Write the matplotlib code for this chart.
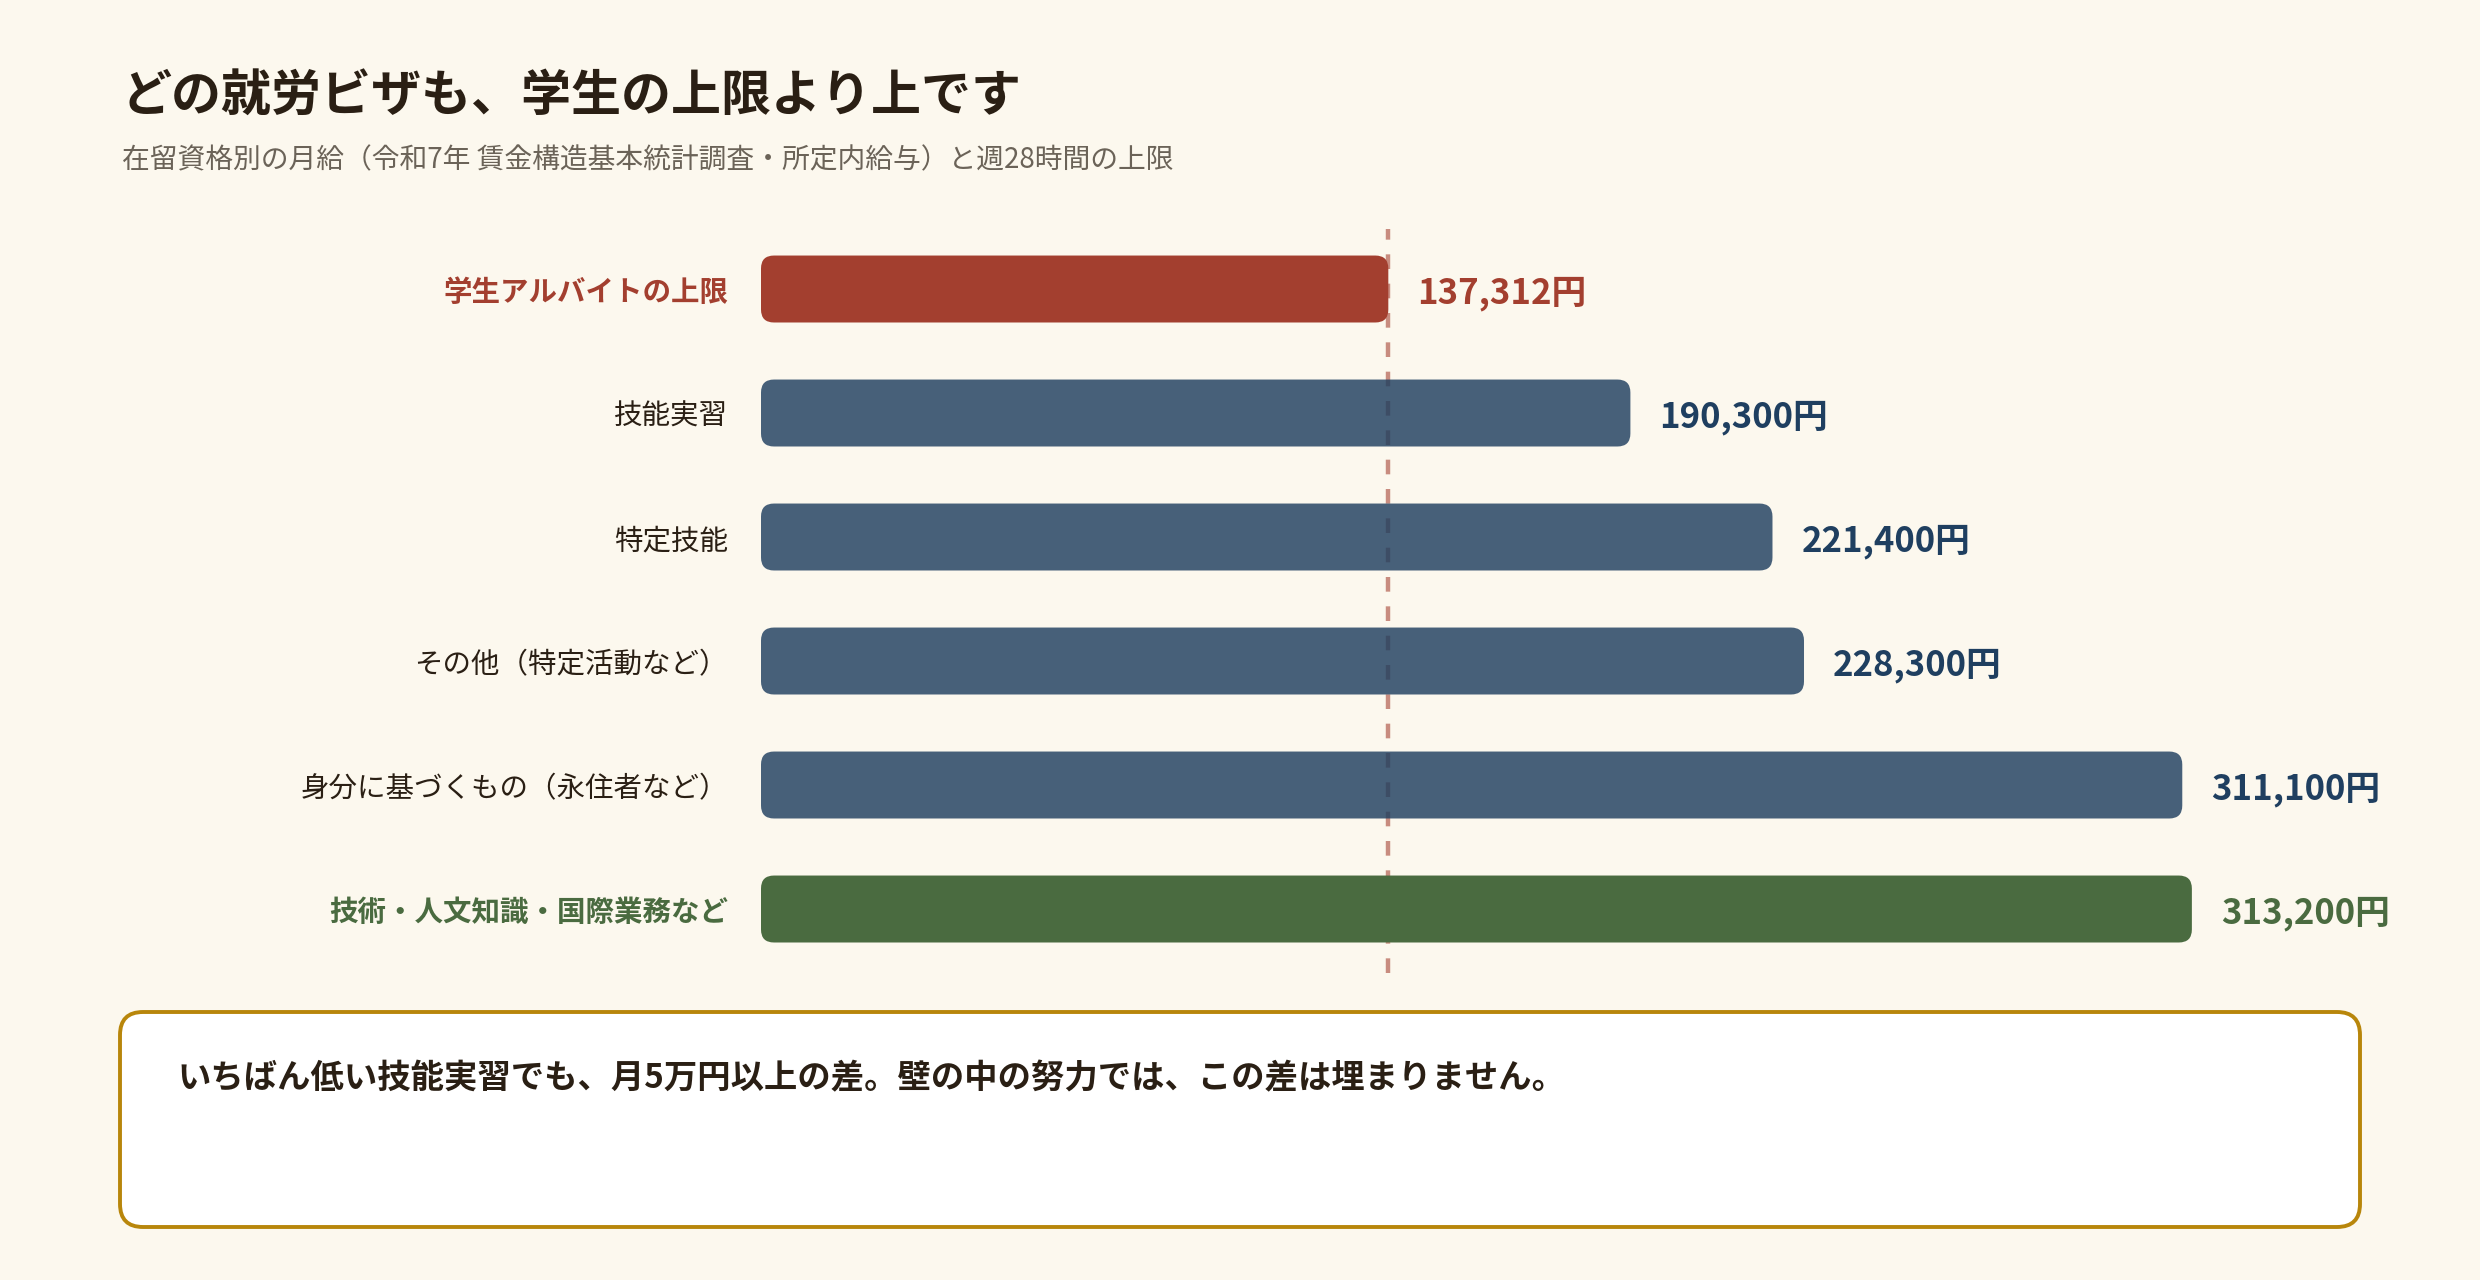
import matplotlib
matplotlib.use("Agg")
import matplotlib.pyplot as plt
from matplotlib.patches import FancyBboxPatch

plt.rcParams['font.family'] = ['Noto Sans CJK JP', 'DejaVu Sans']

# data
categories = ["学生アルバイトの上限", "技能実習", "特定技能", "その他（特定活動など）",
              "身分に基づくもの（永住者など）", "技術・人文知識・国際業務など"]
wages = [137312, 190300, 221400, 228300, 311100, 313200]
student_cap = 137312

title = "どの就労ビザも、学生の上限より上です"
subtitle = "在留資格別の月給（令和7年 賃金構造基本統計調査・所定内給与）と週28時間の上限"
note = "いちばん低い技能実習でも、月5万円以上の差。壁の中の努力では、この差は埋まりません。"

bg = "#fcf8ee"
red = "#a33f2f"
blue = "#1f3f60"
green = "#4a6b40"
dark = "#2a1f14"

bar_colors = [red, blue, blue, blue, blue, green]
bar_alpha = [1, 0.82, 0.82, 0.82, 0.82, 1]
label_colors = [red, dark, dark, dark, dark, green]
label_weights = ["bold", "normal", "normal", "normal", "normal", "bold"]

W, H = 2480, 1280
fig = plt.figure(figsize=(W / 100, H / 100), dpi=100, facecolor=bg)
ax = fig.add_axes([761 / W, 1 - 973 / H, 1599 / W, 744 / H])
ax.set_facecolor("none")
ax.set_xlim(0, 350000)
ax.set_ylim(len(wages) - 0.484, -0.484)
ax.axis("off")

# rounded bars: work out aspect from the axes scales
fig.canvas.draw()
p0 = ax.transData.transform((0, 0))
p1 = ax.transData.transform((1000, 1))
xpx = (p1[0] - p0[0]) / 1000
ypx = abs(p1[1] - p0[1])
aspect = xpx / ypx
radius = 13 / xpx
bh = 0.54
dy = 4 / ypx  # nudge text down a few pixels

for i, v in enumerate(wages):
    box = FancyBboxPatch((0, i - bh / 2), v, bh,
                         boxstyle=f"round,pad=0,rounding_size={radius}",
                         mutation_aspect=aspect,
                         facecolor=bar_colors[i], alpha=bar_alpha[i],
                         edgecolor="none", zorder=3)
    ax.add_patch(box)
    ax.text(v + 29 / xpx, i + dy, f"{v:,}円", va="center", ha="left",
            fontsize=25, fontweight="bold", color=bar_colors[i], zorder=4)
    ax.text(-33 / xpx, i + dy, categories[i], va="center", ha="right",
            fontsize=20.5, fontweight=label_weights[i], color=label_colors[i])

ax.axvline(student_cap, color=red, alpha=0.58, lw=3.2,
           linestyle=(0, (3.3, 3.3)), zorder=2)

# title / subtitle
fig.text(122 / W, 1 - 97 / H, title, fontsize=36, fontweight="bold",
         color=dark, va="center", ha="left")
fig.text(122 / W, 1 - 160 / H, subtitle, fontsize=20, color="#6b6358",
         va="center", ha="left")

# note box
box_ax = fig.add_axes([0, 0, 1, 1])
box_ax.set_xlim(0, W)
box_ax.set_ylim(H, 0)
box_ax.axis("off")
box_ax.add_patch(FancyBboxPatch((120, 1012), 2240, 215,
                                boxstyle="round,pad=0,rounding_size=23",
                                facecolor="white", edgecolor="#b8860b", lw=2.8))
box_ax.text(177, 1079, note, fontsize=24, fontweight="bold", color=dark,
            va="center", ha="left")

fig.savefig("out.png", dpi=100, facecolor=bg)
